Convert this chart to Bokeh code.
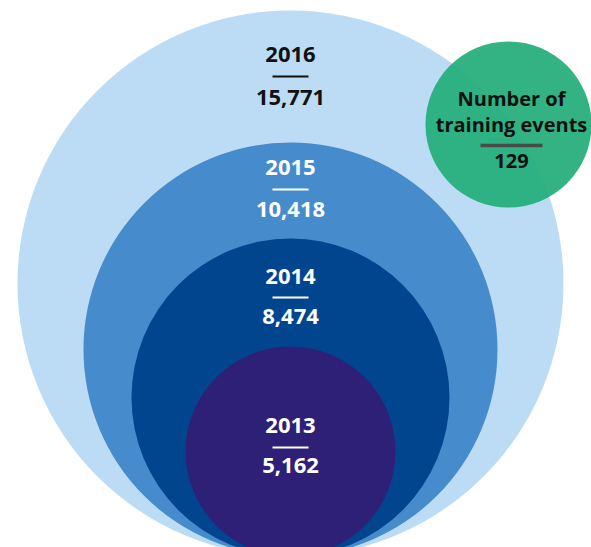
from bokeh.plotting import figure
from bokeh.models import Range1d, ColumnDataSource
from bokeh.core.properties import value
from bokeh.embed import file_html
from bokeh.resources import INLINE

# ---- data ----
years = ["2016", "2015", "2014", "2013"]
participants = [15771, 10418, 8474, 5162]
events_label = ["Number of", "training events"]
training_events = 129

# ---- layout / style (pixel coordinates of the window) ----
colors = ["#bbdcf4", "#468bcb", "#02458f", "#2e2076"]
text_colors = ["#111111", "#ffffff", "#ffffff", "#ffffff"]
radius_px = [273, 207, 159, 105]
cx = 290
bottom_y = 556
TEXT_DY = -9
year_base = [63, 176, 285, 434]
sep_y = [76, 189, 297, 447]
num_base = [106, 218, 325, 474]

green_cx, green_cy, green_r = 508, 124, 83
FONT = value("Open Sans")

W, H = 591, 547
p = figure(width=W, height=H, output_backend="svg", toolbar_location=None,
           x_range=Range1d(0, W), y_range=Range1d(H, 0),
           min_border=0, outline_line_color=None)
p.axis.visible = False
p.grid.visible = False
p.background_fill_color = "white"

cy = [bottom_y - r for r in radius_px]
src = ColumnDataSource(dict(x=[cx] * 4, y=cy, r=radius_px, c=colors))
p.circle(x="x", y="y", radius="r", fill_color="c", line_color=None, source=src)

lab = ColumnDataSource(dict(
    x=[cx] * 4, yb=[v + TEXT_DY for v in year_base],
    nb=[v + TEXT_DY for v in num_base],
    year=years, num=[f"{v:,}" for v in participants], tc=text_colors))
p.text(x="x", y="yb", text="year", text_color="tc", source=lab,
       text_font=FONT, text_font_size="22px", text_font_style="bold",
       text_align="center", text_baseline="alphabetic")
p.text(x="x", y="nb", text="num", text_color="tc", source=lab,
       text_font=FONT, text_font_size="22px", text_font_style="bold",
       text_align="center", text_baseline="alphabetic")
p.segment(x0=[cx - 18] * 4, x1=[cx + 18] * 4, y0=sep_y, y1=sep_y,
          line_color=text_colors, line_width=2)

# green circle
p.circle(x=[green_cx], y=[green_cy], radius=[green_r], fill_color="#22ad78",
         fill_alpha=0.92, line_color=None)
gx = 511
p.text(x=[gx, gx], y=[107 + TEXT_DY, 133 + TEXT_DY], text=events_label,
       text_color="#111111",
       text_font=FONT, text_font_size="20px", text_font_style="bold",
       text_align="center", text_baseline="alphabetic")
p.segment(x0=[gx - 31], x1=[gx + 31], y0=[145], y1=[145],
          line_color="#4a4a4a", line_width=3.5)
p.text(x=[gx], y=[169 + TEXT_DY], text=[str(training_events)],
       text_color="#111111",
       text_font=FONT, text_font_size="20px", text_font_style="bold",
       text_align="center", text_baseline="alphabetic")

open("out.html", "w").write(file_html(p, INLINE))
